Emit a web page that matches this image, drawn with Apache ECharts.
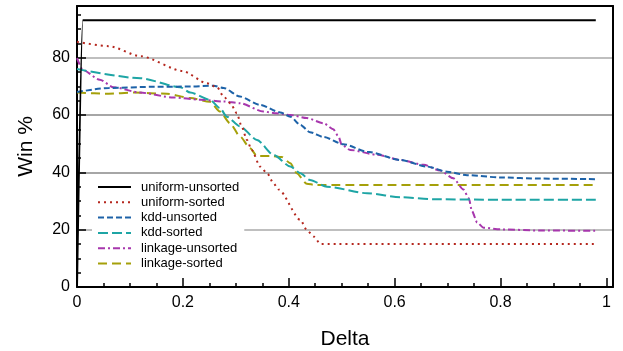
<!DOCTYPE html>
<html>
<head>
<meta charset="utf-8">
<script src="https://cdn.jsdelivr.net/npm/echarts@6/dist/echarts.min.js"></script>
<style>
html,body{margin:0;padding:0;background:#fff;}
#chart{width:623px;height:351px;}
</style>
</head>
<body>
<div id="chart"></div>
<script>
// ---- data (x = Delta, y = Win %) ----
const seriesNames = ['uniform-unsorted','uniform-sorted','kdd-unsorted','kdd-sorted','linkage-unsorted','linkage-sorted'];
const xTickLabels = [0, 0.2, 0.4, 0.6, 0.8, 1];
const yTickLabels = [0, 20, 40, 60, 80];

const uniformUnsorted = [[0,0],[0.011,93],[0.98,93]];
const uniformSorted = [[0,85.5],[0.06,84],[0.12,80.5],[0.2,75.3],[0.245,71.1],[0.265,69.6],[0.277,66.4],[0.29,64],[0.302,60.6],[0.311,56],[0.321,51.3],[0.33,47.8],[0.346,42],[0.36,39.5],[0.371,36.2],[0.381,34],[0.422,23.4],[0.434,19.9],[0.447,17.6],[0.46,15],[0.98,15]];
const kddUnsorted = [[0,68],[0.06,69.4],[0.14,69.8],[0.214,69.9],[0.258,70.2],[0.277,69.4],[0.308,66.4],[0.346,63.5],[0.384,60.9],[0.403,59.4],[0.422,56.5],[0.44,54],[0.466,52.3],[0.503,49.8],[0.548,47.2],[0.611,44.3],[0.661,42],[0.699,40.2],[0.737,39],[0.8,38.2],[0.875,37.8],[0.98,37.6]];
const kddSorted = [[0,76],[0.12,72.8],[0.195,69.7],[0.214,67.8],[0.251,65.3],[0.27,62.4],[0.283,59.4],[0.308,56],[0.34,51.3],[0.371,46.1],[0.403,42],[0.422,39.7],[0.44,37.3],[0.472,35],[0.548,32.7],[0.611,31.3],[0.674,30.6],[0.8,30.4],[0.98,30.4]];
const linkageUnsorted = [[0,79.8],[0.011,75.7],[0.043,72.3],[0.069,69.7],[0.119,67.8],[0.182,66.1],[0.233,65.3],[0.277,64.7],[0.308,64.1],[0.352,61.2],[0.377,60.6],[0.403,60],[0.434,58.9],[0.466,57.1],[0.484,55],[0.494,52.5],[0.5,49.6],[0.516,47.8],[0.567,46.1],[0.611,44.3],[0.655,42.6],[0.686,40.6],[0.711,37.9],[0.73,34],[0.74,31],[0.746,26.5],[0.756,22.5],[0.768,20.7],[0.8,20.1],[0.875,19.7],[0.98,19.6]];
const linkageSorted = [[0,67.8],[0.06,67.4],[0.106,67.8],[0.17,67.4],[0.214,65.9],[0.251,64.6],[0.27,61.2],[0.289,57.1],[0.308,52.5],[0.327,48.4],[0.34,45.7],[0.365,45.7],[0.387,45.3],[0.403,43.2],[0.415,39.7],[0.434,36],[0.45,35.6],[0.98,35.6]];

const seriesData = [uniformUnsorted, uniformSorted, kddUnsorted, kddSorted, linkageUnsorted, linkageSorted];
const seriesColors = ['#000000','#b5271e','#1d62a8','#1ea5a5','#a737ad','#a5a00a'];
const seriesDash = ['solid',[2,4],[6,3],[10,4],[7,3,2,3],[9,5]];

const xMinor = [];
for (let i = 1; i < 20; i++) { if (i % 4 !== 0) xMinor.push(+(i*0.05).toFixed(2)); }
const yMinor = [];
for (let v = 5; v < 98; v += 5) { if (v % 20 !== 0) yMinor.push(v); }

const FONT = 'Liberation Sans, Arial, Helvetica, sans-serif';
const frameAxis = (pos) => ({
  type: 'value', min: 0, max: pos === 'top' ? 1.0125 : 98, position: pos, offset: 0,
  axisLine: { show: true, onZero: false, lineStyle: { color: '#000', width: 2 } },
  axisTick: { show: false }, axisLabel: { show: false }, splitLine: { show: false }
});
const chart = echarts.init(document.getElementById('chart'));
chart.setOption({
  animation: false,
  backgroundColor: '#fff',
  grid: { left: 77, right: 10, top: 6, bottom: 64, containLabel: false, outerBoundsMode: 'none' },
  legend: {
    data: seriesNames,
    orient: 'vertical',
    left: 92, top: 177,
    padding: [3, 5, 3, 5],
    backgroundColor: '#fff',
    itemWidth: 33, itemHeight: 14, itemGap: 1.3,
    itemStyle: { opacity: 0 },
    textStyle: { fontFamily: FONT, fontSize: 13, color: '#000', padding: [0,0,0,5], lineHeight: 14 }
  },
  xAxis: [{
    type: 'value', min: 0, max: 1.0125, interval: 0.2,
    name: 'Delta', nameLocation: 'middle', nameGap: 42,
    nameTextStyle: { fontFamily: FONT, fontSize: 21, color: '#000' },
    axisLine: { onZero: false, lineStyle: { color: '#000', width: 2 } },
    axisTick: { inside: true, length: 9, lineStyle: { color: '#000', width: 1.5 } },
    axisLabel: { fontFamily: FONT, fontSize: 16, color: '#000', margin: 8, showMaxLabel: false,
      formatter: v => (xTickLabels.indexOf(+v.toFixed(2)) >= 0 ? String(+v.toFixed(2)) : '') },
    splitLine: { show: false }
  }, {
    type: 'value', min: 0, max: 1.0125, position: 'bottom', offset: 0,
    axisLine: { show: false },
    axisTick: { inside: true, length: 4, customValues: xMinor, lineStyle: { color: '#000', width: 1.5 } },
    axisLabel: { show: false },
    splitLine: { show: false }
  }, frameAxis('top')],
  yAxis: [{
    type: 'value', min: 0, max: 98, interval: 20,
    name: 'Win %', nameLocation: 'middle', nameGap: 40,
    nameTextStyle: { fontFamily: FONT, fontSize: 21, color: '#000' },
    axisLine: { onZero: false, lineStyle: { color: '#000', width: 2 } },
    axisTick: { inside: true, length: 9, lineStyle: { color: '#000', width: 1.5 } },
    axisLabel: { fontFamily: FONT, fontSize: 16, color: '#000', margin: 7, showMaxLabel: false,
      formatter: v => (yTickLabels.indexOf(v) >= 0 ? String(v) : '') },
    splitLine: { show: true, lineStyle: { color: ['#aaa','#aaa','#888','#888','#aaa','#aaa'], width: 1.5 } }
  }, {
    type: 'value', min: 0, max: 98, position: 'left', offset: 0,
    axisLine: { show: false },
    axisTick: { inside: true, length: 4, customValues: yMinor, lineStyle: { color: '#000', width: 1.5 } },
    axisLabel: { show: false },
    splitLine: { show: false }
  }, frameAxis('right')],
  series: seriesNames.map((name, i) => ({
    name: name,
    type: 'line',
    xAxisIndex: 0, yAxisIndex: 0,
    data: seriesData[i],
    symbol: 'none',
    smooth: 0.25,
    smoothMonotone: 'x',
    color: seriesColors[i],
    lineStyle: { color: seriesColors[i], width: 2, type: seriesDash[i] },
    z: 10 - i
  }))
});
</script>
</body>
</html>
